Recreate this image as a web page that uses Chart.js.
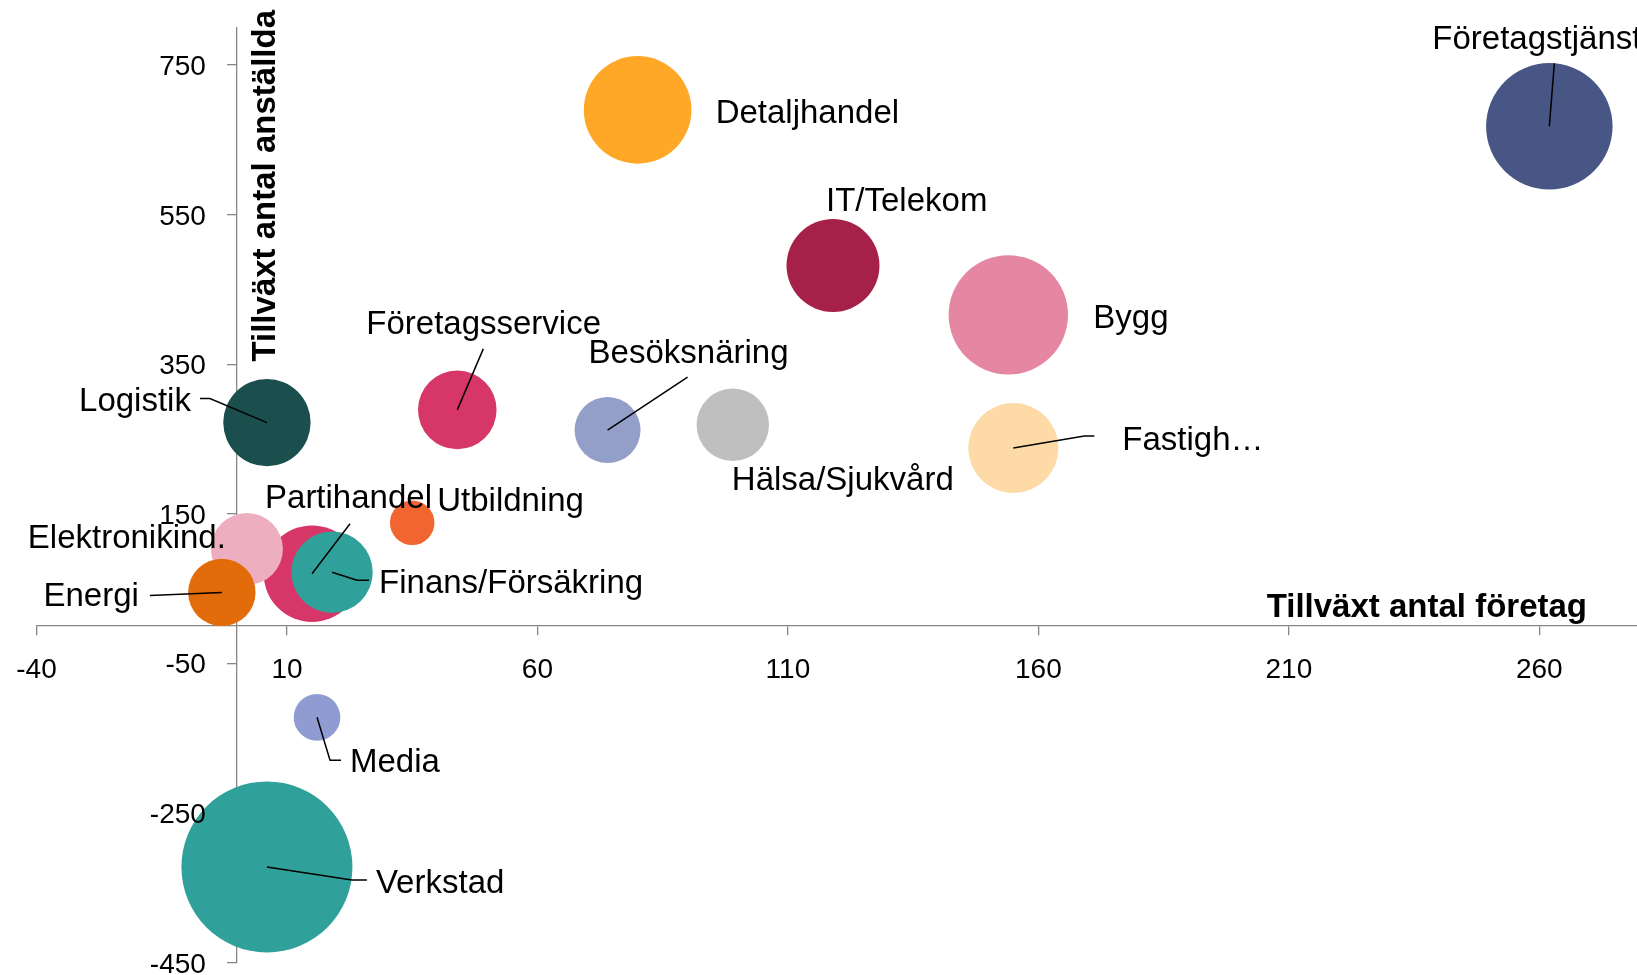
<!DOCTYPE html>
<html lang="sv">
<head>
<meta charset="utf-8">
<title>Tillväxt per bransch</title>
<script src="https://cdn.jsdelivr.net/npm/chart.js@4.4.1/dist/chart.umd.min.js"></script>
<style>
    html, body { margin: 0; padding: 0; background: #ffffff; overflow: hidden; }
    #wrap { position: relative; width: 1637px; height: 975px; }
</style>
</head>
<body>
<div id="wrap"><canvas id="myChart"></canvas></div>
<script>
// branscher (ritordning: senare bubblor hamnar överst)
const branscher = ['Företagstjänster', 'Detaljhandel', 'IT/Telekom', 'Bygg', 'Företagsservice', 'Besöksnäring',
    'Hälsa/Sjukvård', 'Fastigh…', 'Logistik', 'Utbildning', 'Partihandel', 'Finans/Försäkring',
    'Elektronikind.', 'Energi', 'Media', 'Verkstad'];
const tillvaxtForetag = [262, 80, 119, 154, 44, 74, 99, 155, 6, 35, 15, 19, 2, -3, 16, 6];
const tillvaxtAnstallda = [668, 690, 482, 416, 289, 262, 269, 238, 272, 138, 70, 72, 103, 45, -122, -322];
const storlek = [1000, 724, 540, 891, 386, 272, 328, 506, 477, 124, 583, 414, 324, 284, 136, 1828]; // bubbelstorlek
const farger = ['#475685', '#FFA726', '#A5214A', '#E586A2', '#D63768', '#939FC9', '#BFBFBF', '#FDDAA6',
    '#1B4F4D', '#F26430', '#D63768', '#30A19A', '#EDAFC0', '#E36C0A', '#8F9BD1', '#30A19A'];

const xTicks = [-40, 10, 60, 110, 160, 210, 260];
const yTicks = [-450, -250, -50, 150, 350, 550, 750];

// etiketternas placering relativt bubblans mitt (px), med ev. hänvisningslinje
const etikettLayout = [
    {dx: -117, dy: -77, align: 'left', line: [[5, -63]]},
    {dx: 78, dy: 13, align: 'left'},
    {dx: -7, dy: -54, align: 'left'},
    {dx: 85, dy: 13, align: 'left'},
    {dx: -91, dy: -76, align: 'left', line: [[26, -61]]},
    {dx: -19, dy: -67, align: 'left', line: [[80, -53]]},
    {dx: -1, dy: 65, align: 'left'},
    {dx: 109, dy: 2, align: 'left', line: [[71, -12], [81, -12]]},
    {dx: -76, dy: -12, align: 'right', line: [[-57, -24], [-67, -24]]},
    {dx: 25, dy: -12, align: 'left'},
    {dx: -47, dy: -66, align: 'left', line: [[38, -50]]},
    {dx: 47, dy: 21, align: 'left', line: [[25, 8], [37, 8]]},
    {dx: -21, dy: -1, align: 'right'},
    {dx: -83, dy: 14, align: 'right', line: [[-72, 3]]},
    {dx: 33, dy: 55, align: 'left', line: [[13, 43], [24, 43]]},
    {dx: 109, dy: 26, align: 'left', line: [[85, 13], [100, 13]]}
];

const BUBBLE_SKALA = 2; // radie = skala * sqrt(storlek)
const FONT = '"Liberation Sans", Arial, sans-serif';

// bubblorna ska inte krympa ritytan (som i Excel)
Chart.BubbleController.prototype.getMaxOverflow = function () { return false; };

const punkter = branscher.map((b, i) => ({
    x: tillvaxtForetag[i],
    y: tillvaxtAnstallda[i],
    r: BUBBLE_SKALA * Math.sqrt(storlek[i])
}));

const etiketter = {
    id: 'etiketter',
    afterDatasetsDraw(chart) {
        const ctx = chart.ctx;
        const meta = chart.getDatasetMeta(0);
        const xs = chart.scales.x;
        const ys = chart.scales.y;
        ctx.save();

        // hänvisningslinjer och namn
        ctx.strokeStyle = '#000';
        ctx.lineWidth = 1.5;
        ctx.fillStyle = '#000';
        ctx.font = '33px ' + FONT;
        ctx.textBaseline = 'alphabetic';
        meta.data.forEach((el, i) => {
            const lay = etikettLayout[i];
            if (lay.line) {
                ctx.beginPath();
                ctx.moveTo(el.x, el.y);
                lay.line.forEach(p => ctx.lineTo(el.x + p[0], el.y + p[1]));
                ctx.stroke();
            }
            ctx.textAlign = lay.align;
            ctx.fillText(branscher[i], el.x + lay.dx, el.y + lay.dy);
        });

        // axeletiketter
        const x0 = xs.getPixelForValue(0);
        const y0 = ys.getPixelForValue(0);
        ctx.font = '28px ' + FONT;
        ctx.textAlign = 'center';
        xTicks.forEach(v => ctx.fillText(String(v), xs.getPixelForValue(v), y0 + 52));
        ctx.textAlign = 'right';
        yTicks.forEach(v => ctx.fillText(String(v), x0 - 31, ys.getPixelForValue(v) + 10));

        // axeltitlar
        ctx.font = 'bold 33px ' + FONT;
        ctx.textAlign = 'right';
        ctx.fillText('Tillväxt antal företag', chart.chartArea.right - 50, y0 - 9);
        ctx.translate(x0 + 38, 10);
        ctx.rotate(-Math.PI / 2);
        ctx.fillText('Tillväxt antal anställda', 0, 0);
        ctx.restore();
    }
};

const ctx = document.getElementById('myChart').getContext('2d');
const myChart = new Chart(ctx, {
    type: 'bubble',
    data: {
        datasets: [{
            data: punkter,
            backgroundColor: farger,
            borderWidth: 0,
            hoverBorderWidth: 0,
            clip: false
        }]
    },
    options: {
        responsive: true,
        maintainAspectRatio: false,
        animation: false,
        events: [],
        layout: {
            padding: {left: 36.5, right: 0, top: 27.6, bottom: 12.3}
        },
        scales: {
            x: {
                type: 'linear',
                position: {y: 0},
                min: -40,
                max: 279.5,
                afterBuildTicks: axis => { axis.ticks = xTicks.map(v => ({value: v})); },
                ticks: {display: false},
                grid: {drawOnChartArea: false, drawTicks: true, tickLength: 9, color: '#868686', lineWidth: 1.3},
                border: {display: true, color: '#868686', width: 1.3}
            },
            y: {
                type: 'linear',
                position: {x: 0},
                min: -450,
                max: 800,
                afterBuildTicks: axis => { axis.ticks = yTicks.map(v => ({value: v})); },
                ticks: {display: false},
                grid: {drawOnChartArea: false, drawTicks: true, tickLength: 9, color: '#868686', lineWidth: 1.3},
                border: {display: true, color: '#868686', width: 1.3}
            }
        },
        plugins: {
            legend: {display: false},
            tooltip: {enabled: false}
        }
    },
    plugins: [etiketter]
});
</script>
</body>
</html>
